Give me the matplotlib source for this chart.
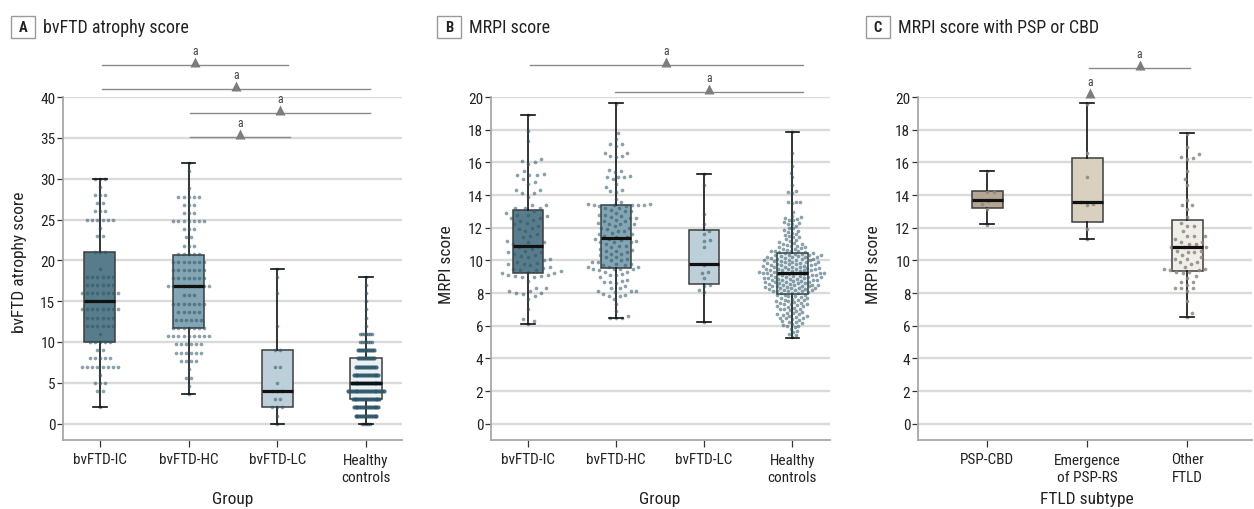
import numpy as np
import matplotlib
matplotlib.use('Agg')
import matplotlib.pyplot as plt
from matplotlib import font_manager as fm
from matplotlib.patches import Rectangle

# ---------------- data ----------------
# Panel A: bvFTD atrophy score (integer scores; dot rows = levels, counts)
a_groups = ['bvFTD-IC', 'bvFTD-HC', 'bvFTD-LC', 'Healthy\ncontrols']
a_ic_levels = [30, 29, 28, 27, 26, 25, 24, 23, 21, 19, 18, 17, 16, 15, 14, 13, 12, 11, 10, 9, 8, 7, 6, 5, 4, 2]
a_ic_counts = [3, 1, 3, 2, 3, 6, 1, 2, 3, 1, 6, 6, 8, 6, 8, 6, 6, 1, 5, 2, 5, 8, 1, 3, 2, 1]
a_hc_levels = [31.9, 30.9, 28.9, 27.8, 26.8, 25.8, 24.8, 23.8, 22.8, 21.8, 20.8, 19.8, 18.8, 17.8,
               16.8, 15.7, 14.7, 13.7, 12.7, 11.7, 10.7, 9.7, 8.7, 7.7, 6.7, 5.6, 4.6, 3.6]
a_hc_counts = [1, 1, 1, 5, 3, 3, 7, 3, 2, 3, 5, 7, 7, 7, 9, 3, 7, 5, 6, 7, 9, 6, 6, 4, 1, 2, 1, 1]
a_lc_levels = [19, 18, 16, 12, 9, 7, 5, 4, 3, 2, 1, 0]
a_lc_counts = [1, 1, 1, 1, 2, 2, 1, 3, 2, 3, 1, 1]
a_hcon_levels = [18, 17, 16, 15, 14, 13, 12, 11, 10, 9, 8, 7, 6, 5, 4, 3, 2, 1, 0]
a_hcon_counts = [1, 1, 1, 1, 1, 1, 1, 7, 7, 9, 9, 11, 14, 16, 20, 15, 14, 12, 5]
# box stats: (whisker low, Q1, median, Q3, whisker high)
a_box = [(2, 10, 15, 21, 30), (3.6, 11.7, 16.8, 20.7, 31.9), (0, 2, 4, 9, 19), (0, 3, 5, 8, 18)]

# Panel B: MRPI score
b_groups = ['bvFTD-IC', 'bvFTD-HC', 'bvFTD-LC', 'Healthy\ncontrols']
b_ic = [18.9, 17.9, 17.3, 16.2, 16.0, 16.1, 15.9, 15.5, 15.2, 15.2, 15.3, 15.2, 15.0, 14.8, 14.7,
        14.3, 14.3, 14.1, 14.1, 13.9, 13.4, 13.4, 13.2, 13.2, 13.2,
        13.0, 12.9, 12.8, 12.8, 12.7, 12.6, 12.6, 12.5, 12.4, 12.3, 12.2, 12.1, 12.0, 11.9, 11.8,
        11.6, 11.5, 11.4, 11.2, 11.15, 11.1, 11.0, 10.9, 10.8, 10.7, 10.6, 10.5, 10.5, 10.4, 10.3,
        10.25, 10.2, 10.1, 10.0, 9.9, 9.85, 9.8, 9.8, 9.7, 9.6, 9.55, 9.5, 9.4, 9.4, 9.35, 9.3, 9.2, 9.2,
        9.1, 9.1, 9.05, 9.05, 9.0, 9.0, 8.75, 8.3, 8.3, 8.15, 8.1, 8.0, 8.0, 7.95, 7.8, 7.65, 7.0,
        6.4, 6.3, 6.1]
b_hc = [19.6, 17.8, 17.45, 17.1, 17.1, 17.0, 16.6, 16.6, 16.4, 16.4, 16.35, 15.55, 15.45, 15.4,
        15.15, 15.1, 15.1, 15.1, 15.0, 14.7, 14.5, 14.25, 14.2, 14.3, 13.75, 13.55, 13.45, 13.4,
        13.4, 13.4, 13.35, 13.4, 13.42, 13.38,
        13.3, 13.2, 13.2, 13.1, 13.0, 13.0, 12.9, 12.8, 12.8, 12.7, 12.6, 12.6, 12.5, 12.4, 12.4,
        12.3, 12.2, 12.2, 12.1, 12.0, 12.0, 11.9, 11.8, 11.8, 11.7, 11.6, 11.6, 11.5, 11.4, 11.3,
        11.3, 11.2, 11.1, 11.1, 11.0, 10.9, 10.9, 10.8, 10.7, 10.6, 10.6, 10.5, 10.4, 10.4, 10.3,
        10.2, 10.2, 10.1, 10.0, 10.0, 9.9, 9.9, 9.8, 9.8, 9.7, 9.7, 9.6, 9.6, 9.6, 11.25, 11.15,
        12.25, 10.65, 11.45, 12.65,
        9.5, 9.5, 9.45, 9.45, 9.4, 9.3, 9.3, 9.15, 9.1, 9.1, 8.95, 8.8, 8.75, 8.7, 8.7, 8.6, 8.45,
        8.3, 8.3, 8.15, 8.1, 8.1, 8.05, 7.95, 7.9, 7.8, 7.8, 7.65, 7.3, 6.9, 6.6, 6.5, 6.5, 6.45]
b_lc = [15.3, 14.6, 12.85, 12.2, 11.8, 11.6, 11.25, 11.2, 10.8, 9.7, 9.3, 9.25, 8.9, 8.5, 8.45,
        8.2, 8.05, 6.2]
b_hcon = [17.85, 16.6, 15.75, 15.35, 15.1, 14.6, 14.25, 14.2, 14.15, 13.6, 13.6, 13.55, 13.5,
          12.95, 12.7, 12.65, 12.6, 12.55, 12.5, 12.45, 12.35, 12.3, 12.25, 12.2, 12.1, 12.0,
          11.95, 11.85, 11.8, 11.75, 11.7, 11.6, 11.55, 11.5, 11.45, 11.4, 11.3, 11.25, 11.2,
          11.1, 11.05, 11.0, 11.0, 10.95, 10.9, 10.85, 10.8, 10.8, 10.75, 10.7, 10.7, 10.65,
          10.6, 10.6, 10.55, 10.55, 10.5, 10.5,
          10.45, 10.4, 10.4, 10.35, 10.3, 10.3, 10.25, 10.2, 10.2, 10.15, 10.1, 10.1, 10.05, 10.0,
          10.0, 9.95, 9.9, 9.9, 9.85, 9.8, 9.8, 9.75, 9.7, 9.7, 9.65, 9.6, 9.6, 9.55, 9.5, 9.5,
          9.5, 9.45, 9.4, 9.4, 9.35, 9.3, 9.3, 9.25, 9.2, 9.2, 9.2, 9.15, 9.1, 9.1, 9.05, 9.0, 9.0,
          8.95, 8.9, 8.9, 8.85, 8.8, 8.8, 8.75, 8.7, 8.7, 8.65, 8.6, 8.6, 8.55, 8.5, 8.5, 8.45,
          8.4, 8.4, 8.35, 8.3, 8.3, 8.25, 8.2, 8.2, 8.15, 8.1, 8.1, 8.05, 8.0, 8.0,
          10.42, 10.32, 10.22, 10.12, 10.02, 9.92, 9.82, 9.72, 9.62, 9.52, 9.42, 9.32, 9.22,
          9.12, 9.02, 8.92, 8.82, 8.72, 8.62, 8.52, 8.42, 8.32, 8.22, 8.12, 8.02, 9.28, 9.18,
          9.08, 8.98, 9.38, 9.48, 9.58, 8.88, 8.78, 8.68, 8.58, 8.48, 8.38, 8.28, 8.18, 9.68,
          9.78, 9.88, 9.98, 10.08, 10.18, 10.28, 9.16, 9.24, 8.86,
          7.9, 7.9, 7.85, 7.8, 7.8, 7.75, 7.7, 7.7, 7.65, 7.6, 7.6, 7.55, 7.5, 7.5, 7.45, 7.4,
          7.4, 7.35, 7.3, 7.3, 7.25, 7.2, 7.2, 7.15, 7.1, 7.05, 7.0, 7.0, 6.95, 6.9, 6.85, 6.8,
          6.75, 6.7, 6.7, 6.65, 6.6, 6.6, 6.55, 6.5, 6.5, 6.45, 6.4, 6.35, 6.3, 6.25, 6.2, 6.15,
          6.1, 6.05, 6.0, 5.95, 5.9, 5.8, 5.7, 5.6, 5.5, 5.4, 5.3]
b_box = [(6.1, 9.2, 10.87, 13.09, 18.88), (6.45, 9.55, 11.34, 13.38, 19.63),
         (6.22, 8.53, 9.75, 11.85, 15.27), (5.27, 7.96, 9.2, 10.46, 17.84)]

# Panel C: MRPI score with PSP or CBD
c_groups = ['PSP-CBD', 'Emergence\nof PSP-RS', 'Other\nFTLD']
c_pspcbd = [15.45, 14.2, 14.2, 13.65, 13.43, 13.16, 12.15]
c_emerg = [19.6, 16.6, 15.1, 13.6, 13.4, 13.45, 11.9, 11.3]
c_other = [17.75, 16.96, 16.5, 16.2, 16.35, 16.25, 15.45, 14.98, 14.6, 13.7, 13.4, 13.16, 13.4,
           12.65, 12.3, 12.1, 12.1, 11.8, 11.5, 11.5, 11.5, 11.3, 11.15, 11.15, 11.0, 11.0, 10.8,
           10.8, 10.8, 10.6, 10.6, 10.5, 10.5, 10.35, 10.2, 10.1, 10.1, 9.9, 9.9, 9.75, 9.6, 9.5,
           9.5, 9.4, 9.4, 9.3, 9.3, 9.2, 9.05, 8.9, 8.7, 8.7, 8.5, 8.3, 8.3, 8.3, 8.1, 7.5, 6.8, 6.55]
c_box = [(12.24, 13.21, 13.68, 14.25, 15.48), (11.32, 12.32, 13.56, 16.29, 19.63),
         (6.55, 9.36, 10.81, 12.5, 17.8)]

# ---------------- style ----------------
W, H = 1254, 510
avail = {f.name for f in fm.fontManager.ttflist}
fam = 'DejaVu Sans'
for cand in ['Liberation Sans Narrow', 'Roboto Condensed', 'Open Sans Condensed',
             'Noto Sans Condensed', 'DejaVu Sans Condensed', 'Lato', 'Roboto']:
    if cand in avail:
        fam = cand
        break
plt.rcParams['font.family'] = [fam, 'DejaVu Sans']

AB_FILL = ['#587c8b', '#84a5b3', '#bdd0d9', '#eaf0f3']
C_FILL = ['#b3a793', '#d9d0c0', '#efeee8']
DOT_AB = '#2c5666'
DOT_C = '#8f887f'
GRID = '#dadada'
SPINE = '#a8a8a8'
TXT = '#222222'

fig = plt.figure(figsize=(W / 100, H / 100), dpi=100)

y_bot_px, y_top_px = 441, 98


def make_ax(left_px, right_px):
    ax = fig.add_axes([left_px / W, 1 - y_bot_px / H, (right_px - left_px) / W,
                       (y_bot_px - y_top_px) / H])
    for s in ['top', 'right']:
        ax.spines[s].set_visible(False)
    for s in ['left', 'bottom']:
        ax.spines[s].set_color(SPINE)
        ax.spines[s].set_linewidth(1.3)
    ax.yaxis.grid(True, color=GRID, lw=1.7, zorder=0)
    ax.set_axisbelow(True)
    ax.tick_params(axis='y', length=4, width=0.9, color='#333333', pad=1.5,
                   labelsize=11, labelcolor=TXT)
    ax.tick_params(axis='x', length=5, width=0.9, color='#333333', pad=4,
                   labelsize=11, labelcolor=TXT)
    return ax


def draw_boxes(ax, stats, fills, width, capw):
    st = [dict(whislo=s[0], q1=s[1], med=s[2], q3=s[3], whishi=s[4], fliers=[]) for s in stats]
    r = ax.bxp(st, positions=range(len(st)), widths=width, capwidths=capw, patch_artist=True,
               showfliers=False,
               boxprops=dict(edgecolor='#3d3d3d', linewidth=1.1),
               whiskerprops=dict(color='#111111', linewidth=1.2),
               capprops=dict(color='#111111', linewidth=1.2),
               medianprops=dict(color='#111111', linewidth=2.3))
    for p, f in zip(r['boxes'], fills):
        p.set_facecolor(f)
        p.set_zorder(2)
    for l in r['whiskers']:
        l.set_zorder(2.5)
    for l in r['caps'] + r['medians']:
        l.set_zorder(4)


def rows_layout(levels, counts, spacing_px):
    xs, ys, ns = [], [], []
    for lv, n in zip(levels, counts):
        for i in range(n):
            xs.append((i - (n - 1) / 2) * spacing_px)
            ys.append(lv)
            ns.append(n)
    return np.array(xs), np.array(ys), np.array(ns)


def swarm_layout(vals, d_px, ppu_y):
    y = np.asarray(vals, float) * ppu_y
    order = np.argsort(y, kind='stable')
    xs = np.zeros(len(y))
    px, py = [], []
    for k, i in enumerate(order):
        yi = y[i]
        cands = [0.0]
        ints = []
        for xj, yj in zip(px, py):
            dy = abs(yi - yj)
            if dy < d_px:
                dx = np.sqrt(d_px ** 2 - dy ** 2)
                ints.append((xj - dx, xj + dx))
                cands += [xj - dx, xj + dx]
        sgn = 1 if k % 2 else -1
        cands = sorted(cands, key=lambda c: (round(abs(c), 6), -sgn * c))
        for c in cands:
            if all(not (lo + 1e-6 < c < hi - 1e-6) for lo, hi in ints):
                xs[i] = c
                break
        px.append(xs[i])
        py.append(yi)
    return xs, np.asarray(vals, float)


def dots(ax, pos, xs_px, ys, ppu_x, color, alpha, size=7.0):
    ax.scatter(pos + xs_px / ppu_x, ys, s=size, color=color, alpha=alpha, linewidths=0, zorder=3)


def sig(ax, x0, x1, y, ppu_y, line=True):
    if line:
        ax.plot([x0, x1], [y, y], color='#8a8a8a', lw=1.0, clip_on=False, zorder=5)
        xm = (x0 + x1) / 2
    else:
        xm = x0
    ax.plot([xm], [y + 2.8 / ppu_y], marker='^', ms=6.5, color='#7d7d7d', mec='none',
            clip_on=False, zorder=5)
    ax.text(xm, y + 8 / ppu_y, 'a', ha='center', va='bottom', fontsize=8.5, color='#444444',
            clip_on=False)


def panel_title(x_box, letter, text):
    fig.add_artist(Rectangle((x_box / W, 1 - 39 / H), 24 / W, 22 / H, transform=fig.transFigure,
                             fill=False, ec='#9a9a9a', lw=1.0))
    fig.text((x_box + 12) / W, 1 - 28.5 / H, letter, ha='center', va='center', fontsize=10.5,
             fontweight='bold', color=TXT)
    fig.text((x_box + 32) / W, 1 - 28 / H, text, ha='left', va='center', fontsize=13, color=TXT)


# ---------------- Panel A ----------------
axA = make_ax(63, 402)
ppuAx = 88.6
ppuAy = (y_bot_px - y_top_px) / 42.0
axA.set_ylim(-2, 40)
axA.set_xlim(-0.417, 3.406)
draw_boxes(axA, a_box, AB_FILL, 0.35, 0.15)
for pos, (lv, ct, sp) in enumerate([(a_ic_levels, a_ic_counts, 5.1), (a_hc_levels, a_hc_counts, 5.1),
                                   (a_lc_levels, a_lc_counts, 5.1), (a_hcon_levels, a_hcon_counts, 1.9)]):
    xs, ys, ns = rows_layout(lv, ct, sp)
    if pos == 3:
        dense = ns >= 9
        dots(axA, pos, xs[~dense], ys[~dense], ppuAx, DOT_AB, 0.6)
        dots(axA, pos, xs[dense], ys[dense], ppuAx, DOT_AB, 0.85, size=9.0)
    else:
        dots(axA, pos, xs, ys, ppuAx, DOT_AB, 0.55)
axA.set_yticks(range(0, 41, 5))
axA.set_xticks(range(4))
axA.set_xticklabels(a_groups, linespacing=1.3)
for (x0, x1, yy) in [(0.02, 2.125, 43.9), (0.02, 3.05, 41.0), (1.02, 3.05, 38.05), (1.02, 2.14, 35.1)]:
    sig(axA, x0, x1, yy, ppuAy)
fig.text(20 / W, 1 - 262 / H, 'bvFTD atrophy score', rotation=90, ha='center', va='center',
         fontsize=12.5, color=TXT)
fig.text(233 / W, 1 - 500 / H, 'Group', ha='center', va='center', fontsize=12.5, color=TXT)
panel_title(11, 'A', 'bvFTD atrophy score')

# ---------------- Panel B ----------------
axB = make_ax(491, 830)
ppuBx = 88.0
ppuBy = (y_bot_px - y_top_px) / 21.0
axB.set_ylim(-1, 20)
axB.set_xlim(-0.42, 3.43)
draw_boxes(axB, b_box, AB_FILL, 0.35, 0.15)
for pos, (vals, d) in enumerate([(b_ic, 7.0), (b_hc, 6.0), (b_lc, 6.0), (b_hcon, 4.2)]):
    xs, ys = swarm_layout(vals, d, ppuBy)
    dots(axB, pos, xs, ys, ppuBx, DOT_AB, 0.55)
axB.set_yticks(range(0, 21, 2))
axB.set_xticks(range(4))
axB.set_xticklabels(b_groups, linespacing=1.3)
sig(axB, 0.02, 3.12, 21.96, ppuBy)
sig(axB, 0.99, 3.12, 20.29, ppuBy)
fig.text(447 / W, 1 - 265 / H, 'MRPI score', rotation=90, ha='center', va='center',
         fontsize=12.5, color=TXT)
fig.text(660 / W, 1 - 500 / H, 'Group', ha='center', va='center', fontsize=12.5, color=TXT)
panel_title(437, 'B', 'MRPI score')

# ---------------- Panel C ----------------
axC = make_ax(918, 1252)
ppuCx = 100.0
ppuCy = ppuBy
axC.set_ylim(-1, 20)
axC.set_xlim(-0.69, 2.65)
draw_boxes(axC, c_box, C_FILL, 0.31, 0.14)
for pos, (vals, d) in enumerate([(c_pspcbd, 6.5), (c_emerg, 6.5), (c_other, 6.5)]):
    xs, ys = swarm_layout(vals, d, ppuCy)
    dots(axC, pos, xs, ys, ppuCx, DOT_C, 0.85)
axC.set_yticks(range(0, 21, 2))
axC.set_xticks(range(3))
axC.set_xticklabels(c_groups, linespacing=1.3)
sig(axC, 1.02, 2.03, 21.8, ppuCy)
sig(axC, 1.03, None, 20.07, ppuCy, line=False)
fig.text(873 / W, 1 - 265 / H, 'MRPI score', rotation=90, ha='center', va='center',
         fontsize=12.5, color=TXT)
fig.text(1087 / W, 1 - 500 / H, 'FTLD subtype', ha='center', va='center', fontsize=12.5, color=TXT)
panel_title(866, 'C', 'MRPI score with PSP or CBD')

fig.savefig('out.png', dpi=100)
